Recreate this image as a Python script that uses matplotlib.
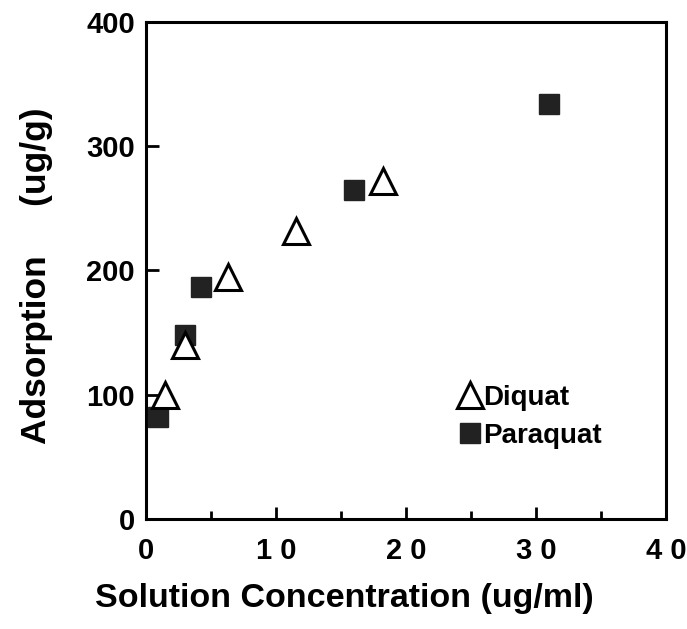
import numpy as np
import matplotlib.pyplot as plt

plt.rcParams['font.family'] = ['Liberation Sans', 'DejaVu Sans']
plt.rcParams['font.weight'] = 'bold'

# Adsorption isotherms (ug/g) vs solution concentration (ug/ml)
diquat_conc = np.array([1.5, 3.0, 6.3, 11.5, 18.2])
diquat_ads = np.array([100, 140, 195, 232, 272])

paraquat_conc = np.array([0.9, 3.0, 4.2, 16.0, 31.0])
paraquat_ads = np.array([82, 148, 187, 265, 334])

x_ticks = [0, 10, 20, 30, 40]
x_ticklabels = ['0', '1 0', '2 0', '3 0', '4 0']
y_ticks = [0, 100, 200, 300, 400]

fig = plt.figure(figsize=(6.87, 6.29), dpi=100)
ax = fig.add_axes([0.2125, 0.175, 0.757, 0.79])

ax.plot(paraquat_conc, paraquat_ads, 's', color='#222222', markersize=15,
        markeredgecolor='#222222', label='Paraquat', zorder=3)
ax.plot(diquat_conc, diquat_ads, '^', color='white', markersize=19,
        markeredgecolor='black', markeredgewidth=2.2, label='Diquat', zorder=4)

ax.set_xlim(0, 40)
ax.set_ylim(0, 400)
ax.set_xticks(x_ticks)
ax.set_xticklabels(x_ticklabels)
ax.set_xticks([5, 15, 25, 35], minor=True)
ax.set_yticks(y_ticks)

ax.tick_params(axis='both', which='major', direction='in', length=9, width=2,
               labelsize=21)
ax.tick_params(axis='x', which='major', pad=13)
ax.tick_params(axis='x', which='minor', direction='in', length=6, width=2)
ax.tick_params(axis='y', which='major', pad=8)

for s in ax.spines.values():
    s.set_linewidth(2.2)

ax.set_xlabel('Solution Concentration (ug/ml)', fontsize=24.5,
              fontweight='bold')
ax.xaxis.set_label_coords(0.381, -0.128)
ax.set_ylabel('Adsorption     (ug/g)', fontsize=25.5, fontweight='bold')
ax.yaxis.set_label_coords(-0.178, 0.49)

handles, labels = ax.get_legend_handles_labels()
ax.legend(handles[::-1], labels[::-1], loc='lower right',
          bbox_to_anchor=(0.925, 0.09), frameon=False, fontsize=20,
          handletextpad=0.05, labelspacing=0.45, handlelength=0.9,
          markerscale=0.95)

plt.savefig('out.png', dpi=100)
